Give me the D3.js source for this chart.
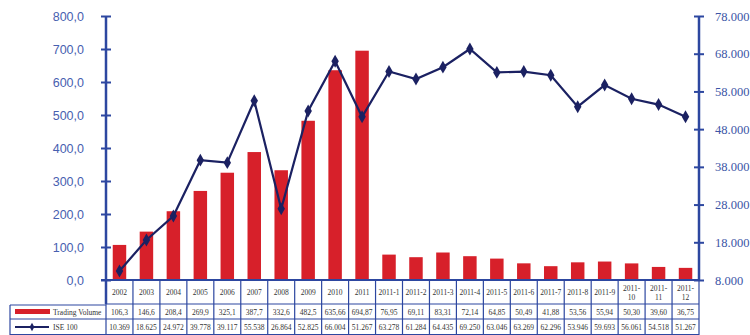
<!DOCTYPE html>
<html><head><meta charset="utf-8">
<script src="https://cdn.jsdelivr.net/npm/d3@7"></script>
<style>body{margin:0;background:#fff}svg{display:block}</style>
</head><body><svg id="c" width="750" height="335"></svg>
<script>
const categories = ["2002","2003","2004","2005","2006","2007","2008","2009","2010","2011","2011-1","2011-2","2011-3","2011-4","2011-5","2011-6","2011-7","2011-8","2011-9","2011-10","2011-11","2011-12"];
const tradingVolume = [106.3,146.6,208.4,269.9,325.1,387.7,332.6,482.5,635.66,694.87,76.95,69.11,83.31,72.14,64.85,50.49,41.88,53.56,55.94,50.30,39.60,36.75];
const tradingVolumeLabels = ["106,3","146,6","208,4","269,9","325,1","387,7","332,6","482,5","635,66","694,87","76,95","69,11","83,31","72,14","64,85","50,49","41,88","53,56","55,94","50,30","39,60","36,75"];
const ise100 = [10369,18625,24972,39778,39117,55538,26864,52825,66004,51267,63278,61284,64435,69250,63046,63269,62296,53946,59693,56061,54518,51267];
const leftTicks = [0,100,200,300,400,500,600,700,800];
const rightTicks = [8000,18000,28000,38000,48000,58000,68000,78000];
const seriesNames = ["Trading Volume","ISE 100"];

const svg = d3.select("#c");
const axisBlue = "#2d47a0", barRed = "#d7202a", lineNavy = "#1b2162";
const x0 = 106, x1 = 699, yTop = 16, yBot = 280;
const x = d3.scaleBand().domain(categories).range([x0, x1]);
const yL = d3.scaleLinear().domain([0,800]).range([yBot, yTop]);
const yR = d3.scaleLinear().domain([8000,78000]).range([yBot, yTop]);

// bars
svg.append("g").selectAll("rect").data(categories).join("rect")
  .attr("x", d => x(d) + x.bandwidth()*0.25)
  .attr("width", x.bandwidth()*0.5)
  .attr("y", (d,i) => yL(tradingVolume[i]))
  .attr("height", (d,i) => yBot - yL(tradingVolume[i]))
  .attr("fill", barRed);

// line
const line = d3.line().x((d,i) => x(categories[i]) + x.bandwidth()/2).y(d => yR(d));
svg.append("path").datum(ise100).attr("d", line).attr("fill","none").attr("stroke",lineNavy).attr("stroke-width",2.2);
const diamond = d3.symbol().type(d3.symbolDiamond).size(48);
svg.append("g").selectAll("path").data(ise100).join("path")
  .attr("d", diamond)
  .attr("transform", (d,i) => `translate(${x(categories[i]) + x.bandwidth()/2},${yR(d)})`)
  .attr("fill", lineNavy);

// axes
const fmtL = v => d3.format(".1f")(v).replace(".", ",");
const fmtR = v => d3.format(",")(v).replace(/,/g, ".").replace(/^(\d+)$/, "$1") ;
const fmtR2 = v => { const s = d3.format(",.0f")(v).replace(/,/g,"."); return s.includes(".") ? s : s; };
const gl = svg.append("g").attr("transform", `translate(${x0},0)`)
  .call(d3.axisLeft(yL).tickValues(leftTicks).tickSize(5).tickFormat(fmtL));
gl.select(".domain").remove();
gl.selectAll(".tick line").attr("x1", 5).attr("x2", -5).attr("stroke", axisBlue).attr("stroke-width", 2);
gl.selectAll(".tick text").attr("x", -22).attr("fill", "#4760b0").attr("font-family","Liberation Sans, Arial, sans-serif").attr("font-size", 12.5);
gl.append("line").attr("y1", yTop).attr("y2", 304).attr("stroke", axisBlue).attr("stroke-width", 2.5);

const rFormat = v => { const t = Math.round(v/1000); return t + ".000"; };
const gr = svg.append("g").attr("transform", `translate(${x1},0)`)
  .call(d3.axisRight(yR).tickValues(rightTicks).tickSize(5).tickFormat(rFormat));
gr.select(".domain").remove();
gr.selectAll(".tick line").attr("x1", -5).attr("x2", 5).attr("stroke", axisBlue).attr("stroke-width", 2);
gr.selectAll(".tick text").attr("x", 16).attr("fill", "#3c55a6").attr("font-family","Liberation Serif, Times New Roman, serif").attr("font-size", 12.5);
gr.append("line").attr("y1", yTop).attr("y2", yBot).attr("stroke", axisBlue).attr("stroke-width", 2.5);

// x baseline
svg.append("line").attr("x1", x0 - 5).attr("x2", x1).attr("y1", yBot).attr("y2", yBot).attr("stroke", axisBlue).attr("stroke-width", 2);

// data table
const tbl = svg.append("g");
const rowY = [280, 304, 319, 335];
const lx = 10;
const tline = (a,b,c,d,w) => tbl.append("line").attr("x1",a).attr("y1",b).attr("x2",c).attr("y2",d).attr("stroke",axisBlue).attr("stroke-width",w||1.2);
// category row
categories.forEach((c,i) => {
  tline(x(c), rowY[0], x(c), rowY[3]);
});
tline(x1, rowY[0], x1, rowY[3]);
tline(x0, rowY[1], x1, rowY[1]);
tline(lx, rowY[1]+1, x0, rowY[1]+1);
tline(lx, rowY[2], x1, rowY[2]);
tline(lx, rowY[1]+1, lx, rowY[3]);
tline(lx, rowY[3]-0.5, x1, rowY[3]-0.5);

const serif = "Liberation Serif, Times New Roman, serif";
categories.forEach((c,i) => {
  const cx = x(c) + x.bandwidth()/2;
  const parts = c.length > 6 ? [c.slice(0,5), c.slice(5)] : [c];
  const t = tbl.append("text").attr("x", cx).attr("text-anchor","middle").attr("font-family", serif).attr("font-size", 7.5).attr("fill","#333");
  if (parts.length === 1) {
    t.attr("y", 295).text(parts[0]);
  } else {
    t.append("tspan").attr("x", cx).attr("y", 291).text(parts[0]);
    t.append("tspan").attr("x", cx).attr("y", 300).text(parts[1]);
  }
  tbl.append("text").attr("x", cx).attr("y", 314.5).attr("text-anchor","middle").attr("font-family", serif).attr("font-size", 7.5).attr("fill","#333").text(tradingVolumeLabels[i]);
  tbl.append("text").attr("x", cx).attr("y", 330).attr("text-anchor","middle").attr("font-family", serif).attr("font-size", 7.5).attr("fill","#333").text(d3.format(",")(ise100[i]).replace(/,/g,"."));
});

// legend cells
tbl.append("rect").attr("x", 15).attr("y", 309).attr("width", 35).attr("height", 5).attr("fill", barRed);
tbl.append("text").attr("x", 53).attr("y", 314.5).attr("font-family", serif).attr("font-size", 7.5).attr("fill","#333").text(seriesNames[0]);
tbl.append("line").attr("x1", 15).attr("x2", 49).attr("y1", 327).attr("y2", 327).attr("stroke", lineNavy).attr("stroke-width", 2);
tbl.append("path").attr("d", d3.symbol().type(d3.symbolDiamond).size(20)).attr("transform","translate(32,327)").attr("fill", lineNavy);
tbl.append("text").attr("x", 53).attr("y", 330).attr("font-family", serif).attr("font-size", 7.5).attr("fill","#333").text(seriesNames[1]);
</script></body></html>
